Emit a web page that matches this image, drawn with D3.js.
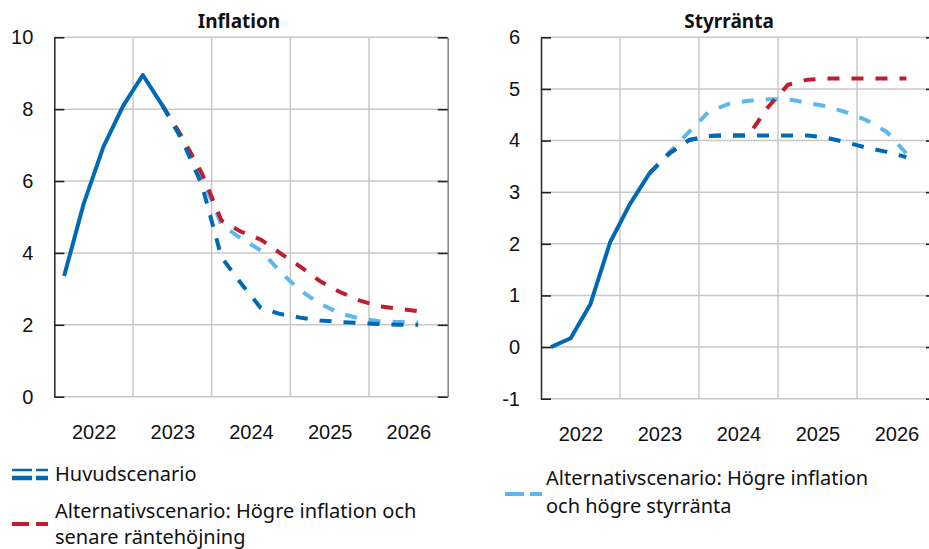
<!DOCTYPE html>
<html>
<head>
<meta charset="utf-8">
<script src="https://cdn.jsdelivr.net/npm/d3@7"></script>
<style>
  body { margin: 0; background: #fff; }
  svg { display: block; font-family: "Noto Sans", "Open Sans", sans-serif; }
</style>
</head>
<body>
<div id="chart"></div>
<script>
const width = 929;
const height = 549;

// Quarters shown on the x axis (history until 2023Q2, then forecasts)
const quarters = ["2022Q1", "2022Q2", "2022Q3", "2022Q4", "2023Q1", "2023Q2", "2023Q3", "2023Q4",
  "2024Q1", "2024Q2", "2024Q3", "2024Q4", "2025Q1", "2025Q2", "2025Q3", "2025Q4",
  "2026Q1", "2026Q2", "2026Q3"];
const histEnd = 5; // index of last outcome quarter

// Inflation, percent
const inflOutcome = [3.36, 5.38, 6.96, 8.09, 8.95, 8.1];
const inflMain = [8.1, 7.14, 5.9, 3.88, 3.15, 2.47, 2.3, 2.2, 2.12, 2.08, 2.05, 2.02, 2.0, 2.0];
const inflLate = [8.1, 7.22, 6.22, 4.9, 4.59, 4.37, 3.99, 3.62, 3.22, 2.92, 2.68, 2.52, 2.45, 2.38];
const inflHigh = [8.1, 7.2, 6.12, 4.78, 4.4, 4.07, 3.47, 2.96, 2.59, 2.32, 2.18, 2.1, 2.08, 2.07];

// Policy rate (styrränta), percent
const rateOutcome = [0.0, 0.17, 0.83, 2.03, 2.77, 3.37];
const rateMain = [3.37, 3.75, 4.01, 4.09, 4.1, 4.1, 4.1, 4.1, 4.1, 4.05, 3.96, 3.86, 3.78, 3.68];
const rateLate = [3.37, 3.75, 4.01, 4.09, 4.1, 4.1, 4.65, 5.08, 5.18, 5.2, 5.2, 5.2, 5.2, 5.2];
const rateHigh = [3.37, 3.77, 4.17, 4.56, 4.71, 4.77, 4.8, 4.8, 4.73, 4.66, 4.54, 4.39, 4.17, 3.75];

const yearLabels = [2022, 2023, 2024, 2025, 2026];
const inflTicks = [0, 2, 4, 6, 8, 10];
const rateTicks = [-1, 0, 1, 2, 3, 4, 5, 6];

const colMain = "#0069b4";
const colLate = "#be1e2d";
const colHigh = "#5db6f0";

// "2023Q2" -> middle of the quarter as fractional year
const qTime = q => +q.slice(0, 4) + (+q.slice(5) - 0.5) / 4;

const svg = d3.select("#chart").append("svg")
  .attr("width", width)
  .attr("height", height);

const panels = [
  { title: "Inflation", titleX: 239, left: 54.3, right: 447.7, top: 37.3, bottom: 396.7,
    yDomain: [0, 10], ticks: inflTicks,
    outcome: inflOutcome, main: inflMain, late: inflLate, high: inflHigh },
  { title: "Styrränta", titleX: 729, left: 541, right: 936, top: 37.3, bottom: 398.7,
    yDomain: [-1, 6], ticks: rateTicks,
    outcome: rateOutcome, main: rateMain, late: rateLate, high: rateHigh }
];

panels.forEach(p => {
  const x = d3.scaleLinear().domain([2022, 2027]).range([p.left, p.right]);
  const y = d3.scaleLinear().domain(p.yDomain).range([p.bottom, p.top]);
  const g = svg.append("g");

  // horizontal grid
  g.selectAll(".hgrid")
    .data(p.ticks)
    .join("line")
      .attr("x1", p.left).attr("x2", p.right)
      .attr("y1", d => y(d)).attr("y2", d => y(d))
      .attr("stroke", "#c8c8c8")
      .attr("stroke-width", 1.5);

  // vertical grid at year boundaries
  g.selectAll(".vgrid")
    .data(yearLabels.slice(1))
    .join("line")
      .attr("x1", d => x(d)).attr("x2", d => x(d))
      .attr("y1", p.top).attr("y2", p.bottom)
      .attr("stroke", "#c8c8c8")
      .attr("stroke-width", 1.5);

  // left axis with inward ticks
  const yAxis = g.append("g")
    .attr("transform", `translate(${p.left},0)`)
    .call(d3.axisLeft(y).tickValues(p.ticks).tickSizeInner(-10).tickSizeOuter(0).tickPadding(21)
      .tickFormat(d => String(d)));
  yAxis.select(".domain").attr("stroke", "#333").attr("stroke-width", 1.6);
  yAxis.selectAll(".tick line").attr("stroke", "#222").attr("stroke-width", 1.6);
  yAxis.selectAll("text")
    .style("font-size", "20px")
    .attr("fill", "#111");

  // right axis, ticks inward, no labels
  const yAxisR = g.append("g")
    .attr("transform", `translate(${p.right},0)`)
    .call(d3.axisRight(y).tickValues(p.ticks).tickSizeInner(-10).tickSizeOuter(0).tickFormat(""));
  yAxisR.select(".domain").attr("stroke", "#888").attr("stroke-width", 1.6);
  yAxisR.selectAll(".tick line").attr("stroke", "#222").attr("stroke-width", 1.6);

  // year labels centred in each year
  const xAxis = g.append("g")
    .attr("transform", `translate(0,${p.bottom + 28})`)
    .call(d3.axisBottom(x).tickValues(yearLabels.map(d => d + 0.5)).tickSize(0).tickPadding(0)
      .tickFormat(d => Math.floor(d)));
  xAxis.select(".domain").remove();
  xAxis.selectAll("text")
    .style("font-size", "20px")
    .attr("fill", "#111");

  // title
  g.append("text")
    .attr("x", p.titleX)
    .attr("y", 28)
    .attr("text-anchor", "middle")
    .style("font-size", "19px")
    .style("font-weight", "bold")
    .attr("fill", "#111")
    .text(p.title);

  const line = d3.line()
    .x(d => x(qTime(d.q)))
    .y(d => y(d.v));

  const hist = p.outcome.map((v, i) => ({ q: quarters[i], v }));
  const fc = arr => arr.map((v, i) => ({ q: quarters[histEnd + i], v }));

  const series = [
    { data: fc(p.high), color: colHigh, dash: "12,12" },
    { data: fc(p.late), color: colLate, dash: "12,12" },
    { data: fc(p.main), color: colMain, dash: "12,12" },
    { data: hist, color: colMain, dash: null }
  ];

  g.selectAll(".series")
    .data(series)
    .join("path")
      .attr("d", d => line(d.data))
      .attr("fill", "none")
      .attr("stroke", d => d.color)
      .attr("stroke-width", 4)
      .attr("stroke-dasharray", d => d.dash)
      .attr("stroke-linejoin", "round");
});

// Legend
const legend = svg.append("g").style("font-size", "20px").attr("fill", "#111");

legend.append("line")
  .attr("x1", 12).attr("x2", 48).attr("y1", 470).attr("y2", 470)
  .attr("stroke", colMain).attr("stroke-width", 2.5).attr("stroke-dasharray", "20,4");
legend.append("line")
  .attr("x1", 12).attr("x2", 48).attr("y1", 478).attr("y2", 478)
  .attr("stroke", colMain).attr("stroke-width", 4.5).attr("stroke-dasharray", "20,4");
legend.append("text").attr("x", 55).attr("y", 481).text("Huvudscenario");

legend.append("line")
  .attr("x1", 12).attr("x2", 48).attr("y1", 524).attr("y2", 524)
  .attr("stroke", colLate).attr("stroke-width", 4).attr("stroke-dasharray", "17,7");
legend.append("text").attr("x", 55).attr("y", 518).text("Alternativscenario: Högre inflation och");
legend.append("text").attr("x", 55).attr("y", 544).text("senare räntehöjning");

legend.append("line")
  .attr("x1", 505).attr("x2", 542).attr("y1", 494).attr("y2", 494)
  .attr("stroke", colHigh).attr("stroke-width", 4).attr("stroke-dasharray", "19,6");
legend.append("text").attr("x", 546).attr("y", 485).text("Alternativscenario: Högre inflation");
legend.append("text").attr("x", 546).attr("y", 513).text("och högre styrränta");
</script>
</body>
</html>
